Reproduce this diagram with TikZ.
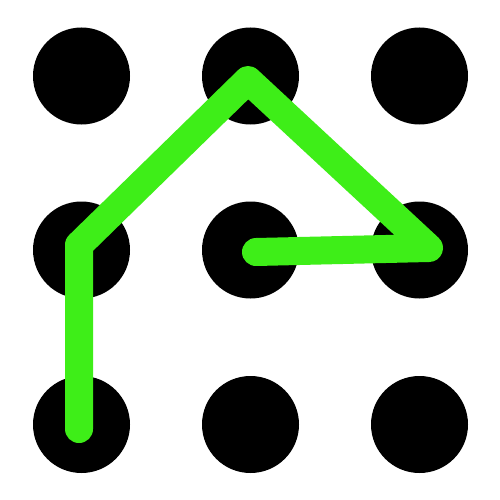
\documentclass[tikz,border=0pt]{standalone}
\definecolor{lockgreen}{RGB}{62,238,24}
\begin{document}
\begin{tikzpicture}[x=1pt,y=-1pt,
  dot/.style={circle,fill=black,inner sep=0pt,minimum size=97pt},
  pattern/.style={draw=lockgreen,line width=28pt,line cap=round,line join=round}]
\useasboundingbox (0,0) rectangle (500,500);
\fill[white] (0,0) rectangle (500,500);
\node[dot] (d11) at (81.5,76) {};
\node[dot] (d12) at (250.5,76) {};
\node[dot] (d13) at (419.5,76) {};
\node[dot] (d21) at (81.5,250) {};
\node[dot] (d22) at (250.5,250) {};
\node[dot] (d23) at (419.5,250) {};
\node[dot] (d31) at (81.5,424.5) {};
\node[dot] (d32) at (250.5,424.5) {};
\node[dot] (d33) at (419.5,424.5) {};
\coordinate (p1) at (79,429);
\coordinate (p2) at (79,245);
\coordinate (p3) at (248,80);
\coordinate (p4) at (429,248);
\coordinate (p5) at (256,252);
\draw[pattern] (p1) -- (p2) -- (p3) -- (p4) -- (p5);
\end{tikzpicture}
\end{document}
